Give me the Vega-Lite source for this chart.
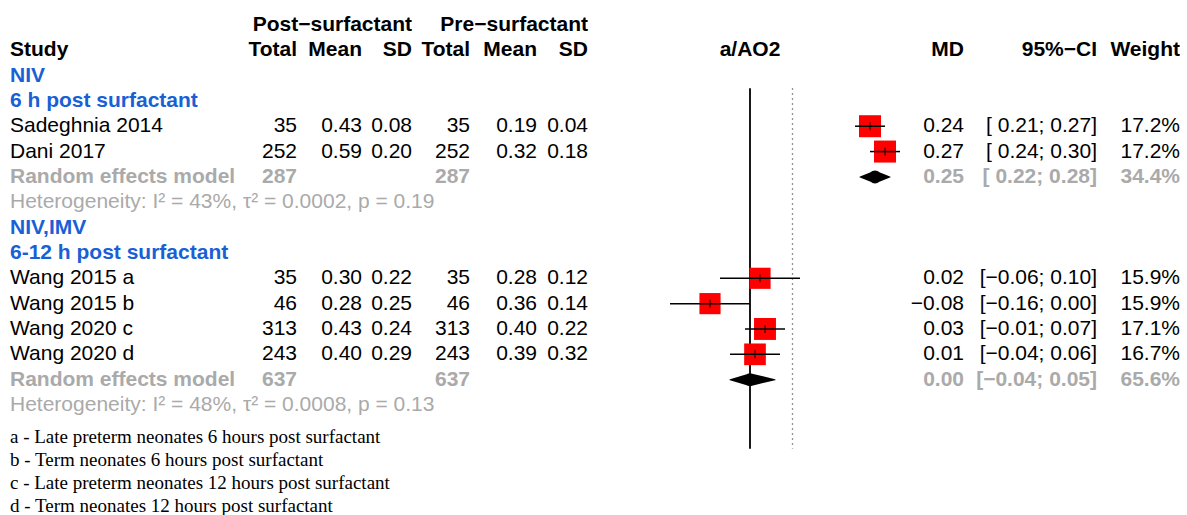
{
  "$schema": "https://vega.github.io/schema/vega-lite/v6.json",
  "padding": 0,
  "bounds": "flush",
  "spacing": 0,
  "background": "white",
  "config": {
    "view": {"stroke": null},
    "text": {"font": "Liberation Sans", "fontSize": 21, "baseline": "middle"}
  },
  "datasets": {
    "rows": [
      {"row": 0, "kind": "group", "postSD": "Post−surfactant", "preSD": "Pre−surfactant"},
      {"row": 1, "kind": "header", "study": "Study", "postTotal": "Total", "postMean": "Mean", "postSD": "SD", "preTotal": "Total", "preMean": "Mean", "preSD": "SD", "plot": "a/AO2", "md": "MD", "ci": "95%−CI", "weight": "Weight"},
      {"row": 2, "kind": "subgroup", "study": "NIV"},
      {"row": 3, "kind": "subgroup", "study": "6 h post surfactant"},
      {"row": 4, "kind": "study", "study": "Sadeghnia 2014", "postTotal": "35", "postMean": "0.43", "postSD": "0.08", "preTotal": "35", "preMean": "0.19", "preSD": "0.04", "md": "0.24", "ci": "[ 0.21; 0.27]", "weight": "17.2%", "est": 0.24, "lo": 0.21, "hi": 0.27, "w": 17.2},
      {"row": 5, "kind": "study", "study": "Dani 2017", "postTotal": "252", "postMean": "0.59", "postSD": "0.20", "preTotal": "252", "preMean": "0.32", "preSD": "0.18", "md": "0.27", "ci": "[ 0.24; 0.30]", "weight": "17.2%", "est": 0.27, "lo": 0.24, "hi": 0.30, "w": 17.2},
      {"row": 6, "kind": "pooled", "study": "Random effects model", "postTotal": "287", "preTotal": "287", "md": "0.25", "ci": "[ 0.22; 0.28]", "weight": "34.4%", "est": 0.25, "lo": 0.22, "hi": 0.28},
      {"row": 7, "kind": "het", "study": "Heterogeneity: I² = 43%, τ² = 0.0002, p = 0.19"},
      {"row": 8, "kind": "subgroup", "study": "NIV,IMV"},
      {"row": 9, "kind": "subgroup", "study": "6-12 h post surfactant"},
      {"row": 10, "kind": "study", "study": "Wang 2015 a", "postTotal": "35", "postMean": "0.30", "postSD": "0.22", "preTotal": "35", "preMean": "0.28", "preSD": "0.12", "md": "0.02", "ci": "[−0.06; 0.10]", "weight": "15.9%", "est": 0.02, "lo": -0.06, "hi": 0.10, "w": 15.9},
      {"row": 11, "kind": "study", "study": "Wang 2015 b", "postTotal": "46", "postMean": "0.28", "postSD": "0.25", "preTotal": "46", "preMean": "0.36", "preSD": "0.14", "md": "−0.08", "ci": "[−0.16; 0.00]", "weight": "15.9%", "est": -0.08, "lo": -0.16, "hi": 0.00, "w": 15.9},
      {"row": 12, "kind": "study", "study": "Wang 2020 c", "postTotal": "313", "postMean": "0.43", "postSD": "0.24", "preTotal": "313", "preMean": "0.40", "preSD": "0.22", "md": "0.03", "ci": "[−0.01; 0.07]", "weight": "17.1%", "est": 0.03, "lo": -0.01, "hi": 0.07, "w": 17.1},
      {"row": 13, "kind": "study", "study": "Wang 2020 d", "postTotal": "243", "postMean": "0.40", "postSD": "0.29", "preTotal": "243", "preMean": "0.39", "preSD": "0.32", "md": "0.01", "ci": "[−0.04; 0.06]", "weight": "16.7%", "est": 0.01, "lo": -0.04, "hi": 0.06, "w": 16.7},
      {"row": 14, "kind": "pooled", "study": "Random effects model", "postTotal": "637", "preTotal": "637", "md": "0.00", "ci": "[−0.04; 0.05]", "weight": "65.6%", "est": 0.00, "lo": -0.04, "hi": 0.05},
      {"row": 15, "kind": "het", "study": "Heterogeneity: I² = 48%, τ² = 0.0008, p = 0.13"}
    ],
    "notes": [
      {"i": 0, "note": "a - Late preterm neonates 6 hours post surfactant"},
      {"i": 1, "note": "b - Term neonates 6 hours post surfactant"},
      {"i": 2, "note": "c -  Late preterm neonates 12 hours post surfactant"},
      {"i": 3, "note": "d - Term neonates 12 hours post surfactant"}
    ],
    "refs": [
      {"ref": "null effect", "at": 0, "from": 2.5, "to": 16.73},
      {"ref": "overall", "at": 0.085, "from": 2.5, "to": 16.73}
    ]
  },
  "hconcat": [
    {"width": 10, "height": 515,
     "layer": [
       {"data": {"name": "rows"}, "transform": [{"filter": "isValid(datum.study)"}],
        "mark": {"type": "text", "align": "left", "fontWeight": {"expr": "indexof(['study','het'], datum.kind) >= 0 ? 'normal' : 'bold'"}},
        "encoding": {"x": {"value": "width"}, "y": {"field": "row", "type": "quantitative", "scale": {"domain": [-0.98, 19.34], "reverse": true, "nice": false, "zero": false}, "axis": null}, "text": {"field": "study"},
          "color": {"field": "kind", "type": "nominal", "scale": {"domain": ["group", "header", "subgroup", "study", "pooled", "het"], "range": ["#000000", "#000000", "#1a5fd6", "#000000", "#aaaaaa", "#aaaaaa"]}, "legend": null}}},
       {"data": {"name": "notes"},
        "mark": {"type": "text", "align": "left", "font": "Liberation Serif", "fontSize": 19},
        "encoding": {"x": {"value": "width"}, "y": {"field": "i", "type": "quantitative", "scale": {"domain": [-19.27, 3.414], "reverse": true, "nice": false, "zero": false}, "axis": null}, "text": {"field": "note"}, "color": {"value": "#000000"}}}
     ],
     "resolve": {"scale": {"y": "independent"}}},
    {"width": 287, "height": 515, "data": {"name": "rows"}, "transform": [{"filter": "isValid(datum.postTotal)"}],
     "mark": {"type": "text", "align": "right", "fontWeight": {"expr": "indexof(['study','het'], datum.kind) >= 0 ? 'normal' : 'bold'"}},
     "encoding": {"x": {"value": "width"}, "y": {"field": "row", "type": "quantitative", "scale": {"domain": [-0.98, 19.34], "reverse": true, "nice": false, "zero": false}, "axis": null}, "text": {"field": "postTotal"},
       "color": {"field": "kind", "type": "nominal", "scale": {"domain": ["group", "header", "subgroup", "study", "pooled", "het"], "range": ["#000000", "#000000", "#1a5fd6", "#000000", "#aaaaaa", "#aaaaaa"]}, "legend": null}}},
    {"width": 65, "height": 515, "data": {"name": "rows"}, "transform": [{"filter": "isValid(datum.postMean)"}],
     "mark": {"type": "text", "align": "right", "fontWeight": {"expr": "indexof(['study','het'], datum.kind) >= 0 ? 'normal' : 'bold'"}},
     "encoding": {"x": {"value": "width"}, "y": {"field": "row", "type": "quantitative", "scale": {"domain": [-0.98, 19.34], "reverse": true, "nice": false, "zero": false}, "axis": null}, "text": {"field": "postMean"},
       "color": {"field": "kind", "type": "nominal", "scale": {"domain": ["group", "header", "subgroup", "study", "pooled", "het"], "range": ["#000000", "#000000", "#1a5fd6", "#000000", "#aaaaaa", "#aaaaaa"]}, "legend": null}}},
    {"width": 50, "height": 515, "data": {"name": "rows"}, "transform": [{"filter": "isValid(datum.postSD)"}],
     "mark": {"type": "text", "align": "right", "fontWeight": {"expr": "indexof(['study','het'], datum.kind) >= 0 ? 'normal' : 'bold'"}},
     "encoding": {"x": {"value": "width"}, "y": {"field": "row", "type": "quantitative", "scale": {"domain": [-0.98, 19.34], "reverse": true, "nice": false, "zero": false}, "axis": null}, "text": {"field": "postSD"},
       "color": {"field": "kind", "type": "nominal", "scale": {"domain": ["group", "header", "subgroup", "study", "pooled", "het"], "range": ["#000000", "#000000", "#1a5fd6", "#000000", "#aaaaaa", "#aaaaaa"]}, "legend": null}}},
    {"width": 58, "height": 515, "data": {"name": "rows"}, "transform": [{"filter": "isValid(datum.preTotal)"}],
     "mark": {"type": "text", "align": "right", "fontWeight": {"expr": "indexof(['study','het'], datum.kind) >= 0 ? 'normal' : 'bold'"}},
     "encoding": {"x": {"value": "width"}, "y": {"field": "row", "type": "quantitative", "scale": {"domain": [-0.98, 19.34], "reverse": true, "nice": false, "zero": false}, "axis": null}, "text": {"field": "preTotal"},
       "color": {"field": "kind", "type": "nominal", "scale": {"domain": ["group", "header", "subgroup", "study", "pooled", "het"], "range": ["#000000", "#000000", "#1a5fd6", "#000000", "#aaaaaa", "#aaaaaa"]}, "legend": null}}},
    {"width": 67, "height": 515, "data": {"name": "rows"}, "transform": [{"filter": "isValid(datum.preMean)"}],
     "mark": {"type": "text", "align": "right", "fontWeight": {"expr": "indexof(['study','het'], datum.kind) >= 0 ? 'normal' : 'bold'"}},
     "encoding": {"x": {"value": "width"}, "y": {"field": "row", "type": "quantitative", "scale": {"domain": [-0.98, 19.34], "reverse": true, "nice": false, "zero": false}, "axis": null}, "text": {"field": "preMean"},
       "color": {"field": "kind", "type": "nominal", "scale": {"domain": ["group", "header", "subgroup", "study", "pooled", "het"], "range": ["#000000", "#000000", "#1a5fd6", "#000000", "#aaaaaa", "#aaaaaa"]}, "legend": null}}},
    {"width": 51, "height": 515, "data": {"name": "rows"}, "transform": [{"filter": "isValid(datum.preSD)"}],
     "mark": {"type": "text", "align": "right", "fontWeight": {"expr": "indexof(['study','het'], datum.kind) >= 0 ? 'normal' : 'bold'"}},
     "encoding": {"x": {"value": "width"}, "y": {"field": "row", "type": "quantitative", "scale": {"domain": [-0.98, 19.34], "reverse": true, "nice": false, "zero": false}, "axis": null}, "text": {"field": "preSD"},
       "color": {"field": "kind", "type": "nominal", "scale": {"domain": ["group", "header", "subgroup", "study", "pooled", "het"], "range": ["#000000", "#000000", "#1a5fd6", "#000000", "#aaaaaa", "#aaaaaa"]}, "legend": null}}},
    {"width": 324, "height": 515,
     "layer": [
       {"data": {"name": "refs"}, "transform": [{"filter": "datum.ref === 'null effect'"}],
        "mark": {"type": "rule", "color": "#000000", "strokeWidth": 1.8},
        "encoding": {"x": {"field": "at", "type": "quantitative", "scale": {"domain": [-0.324, 0.324], "nice": false, "zero": false}, "axis": null},
          "y": {"field": "from", "type": "quantitative", "scale": {"domain": [-0.98, 19.34], "reverse": true, "nice": false, "zero": false}, "axis": null}, "y2": {"field": "to"}}},
       {"data": {"name": "refs"}, "transform": [{"filter": "datum.ref === 'overall'"}],
        "mark": {"type": "rule", "color": "#707070", "strokeWidth": 1.3, "strokeDash": [1.5, 3.5]},
        "encoding": {"x": {"field": "at", "type": "quantitative"}, "y": {"field": "from", "type": "quantitative"}, "y2": {"field": "to"}}},
       {"data": {"name": "rows"}, "transform": [{"filter": "datum.kind === 'study'"}],
        "mark": {"type": "point", "shape": "square", "filled": true, "color": "#ff0000", "opacity": 1, "strokeWidth": 0},
        "encoding": {"x": {"field": "est", "type": "quantitative"}, "y": {"field": "row", "type": "quantitative"}, "size": {"field": "w", "type": "quantitative", "scale": {"domain": [0, 17.2], "range": [0, 484]}, "legend": null}}},
       {"data": {"name": "rows"}, "transform": [{"filter": "datum.kind === 'study'"}],
        "mark": {"type": "rule", "color": "#000000", "strokeWidth": 1.5},
        "encoding": {"x": {"field": "lo", "type": "quantitative"}, "x2": {"field": "hi"}, "y": {"field": "row", "type": "quantitative"}}},
       {"data": {"name": "rows"}, "transform": [{"filter": "datum.kind === 'study'"}],
        "mark": {"type": "tick", "orient": "vertical", "size": 8, "thickness": 1.3, "color": "#000000"},
        "encoding": {"x": {"field": "est", "type": "quantitative"}, "y": {"field": "row", "type": "quantitative"}}},
       {"data": {"name": "rows"}, "transform": [{"filter": "datum.kind === 'pooled'"}, {"fold": ["lo", "est", "hi"], "as": ["pt", "val"]}],
        "mark": {"type": "trail", "color": "#000000"},
        "encoding": {"x": {"field": "val", "type": "quantitative"}, "y": {"field": "row", "type": "quantitative"}, "detail": {"field": "row"}, "size": {"condition": {"test": "datum.pt === 'est'", "value": 13}, "value": 0}}},
       {"data": {"name": "rows"}, "transform": [{"filter": "isValid(datum.plot)"}],
        "mark": {"type": "text", "align": "center", "fontWeight": "bold"},
        "encoding": {"y": {"field": "row", "type": "quantitative"}, "text": {"field": "plot"}, "color": {"value": "#000000"}}}
     ]},
    {"width": 52, "height": 515, "data": {"name": "rows"}, "transform": [{"filter": "isValid(datum.md)"}],
     "mark": {"type": "text", "align": "right", "fontWeight": {"expr": "indexof(['study','het'], datum.kind) >= 0 ? 'normal' : 'bold'"}},
     "encoding": {"x": {"value": "width"}, "y": {"field": "row", "type": "quantitative", "scale": {"domain": [-0.98, 19.34], "reverse": true, "nice": false, "zero": false}, "axis": null}, "text": {"field": "md"},
       "color": {"field": "kind", "type": "nominal", "scale": {"domain": ["group", "header", "subgroup", "study", "pooled", "het"], "range": ["#000000", "#000000", "#1a5fd6", "#000000", "#aaaaaa", "#aaaaaa"]}, "legend": null}}},
    {"width": 133, "height": 515, "data": {"name": "rows"}, "transform": [{"filter": "isValid(datum.ci)"}],
     "mark": {"type": "text", "align": "right", "fontWeight": {"expr": "indexof(['study','het'], datum.kind) >= 0 ? 'normal' : 'bold'"}},
     "encoding": {"x": {"value": "width"}, "y": {"field": "row", "type": "quantitative", "scale": {"domain": [-0.98, 19.34], "reverse": true, "nice": false, "zero": false}, "axis": null}, "text": {"field": "ci"},
       "color": {"field": "kind", "type": "nominal", "scale": {"domain": ["group", "header", "subgroup", "study", "pooled", "het"], "range": ["#000000", "#000000", "#1a5fd6", "#000000", "#aaaaaa", "#aaaaaa"]}, "legend": null}}},
    {"width": 83, "height": 515, "data": {"name": "rows"}, "transform": [{"filter": "isValid(datum.weight)"}],
     "mark": {"type": "text", "align": "right", "fontWeight": {"expr": "indexof(['study','het'], datum.kind) >= 0 ? 'normal' : 'bold'"}},
     "encoding": {"x": {"value": "width"}, "y": {"field": "row", "type": "quantitative", "scale": {"domain": [-0.98, 19.34], "reverse": true, "nice": false, "zero": false}, "axis": null}, "text": {"field": "weight"},
       "color": {"field": "kind", "type": "nominal", "scale": {"domain": ["group", "header", "subgroup", "study", "pooled", "het"], "range": ["#000000", "#000000", "#1a5fd6", "#000000", "#aaaaaa", "#aaaaaa"]}, "legend": null}}}
  ]
}
